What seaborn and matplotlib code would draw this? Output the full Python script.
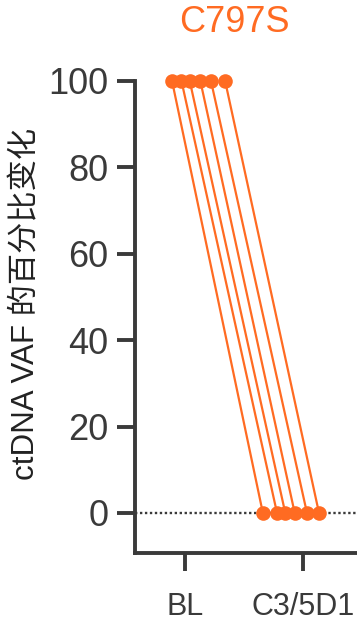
import matplotlib
matplotlib.use("Agg")
import matplotlib.pyplot as plt
import seaborn as sns
import pandas as pd
import numpy as np

# Values
timepoints = ["BL", "C3/5D1"]
subjects = ["P1", "P2", "P3", "P4", "P5", "P6"]
vaf_bl = [100, 100, 100, 100, 100, 100]
vaf_c3 = [0, 0, 0, 0, 0, 0]
title = "C797S"
ylabel = "ctDNA VAF 的百分比变化"
yticks = [0, 20, 40, 60, 80, 100]

# horizontal spread of the points around each timepoint
offset_bl = [-0.11, -0.03, 0.04, 0.13, 0.22, 0.34]
offset_c3 = [-0.34, -0.22, -0.15, -0.07, 0.034, 0.136]

orange = "#FF6B22"
ink = "#3a3a3a"

rows = []
for i, s in enumerate(subjects):
    rows.append({"subject": s, "time": timepoints[0], "x": 0 + offset_bl[i], "vaf": vaf_bl[i]})
    rows.append({"subject": s, "time": timepoints[1], "x": 1 + offset_c3[i], "vaf": vaf_c3[i]})
df = pd.DataFrame(rows)

sns.set_theme(style="ticks")
plt.rcParams["font.family"] = ["Liberation Sans", "Noto Sans CJK SC", "DejaVu Sans"]

fig = plt.figure(figsize=(3.57, 6.27), dpi=100)
ax = fig.add_axes([135 / 357, 74 / 627, 1 - 135 / 357, (553 - 81) / 627])

# dotted reference line at zero
ax.axhline(0, ls=(0, (1, 1.1)), color=ink, lw=1.7, zorder=1)

sns.lineplot(data=df, x="x", y="vaf", units="subject", estimator=None,
             color=orange, lw=1.6, marker="o", markersize=10.5,
             markeredgecolor=orange, markeredgewidth=0, ax=ax, zorder=3,
             legend=False)
for ln in ax.lines:
    ln.set_clip_on(False)

ax.set_xlim(-0.424, 1.458)
ax.set_ylim(-9.26, 100)
ax.set_xticks([0, 1])
ax.set_xticklabels(timepoints)
ax.set_yticks(yticks)
ax.set_xlabel("")
ax.set_ylabel(ylabel, fontsize=22.5, color="#222222")
ax.yaxis.set_label_coords(-0.42, 0.527)

for side in ["top", "right"]:
    ax.spines[side].set_visible(False)
for side in ["left", "bottom"]:
    ax.spines[side].set_linewidth(2.8)
    ax.spines[side].set_color(ink)

ax.tick_params(axis="y", length=13, width=2.8, color=ink, labelsize=26,
               labelcolor=ink, pad=6)
ax.tick_params(axis="x", length=13, width=2.8, color=ink, labelsize=22,
               labelcolor=ink, pad=15)

fig.text(234 / 357, 1 - 22 / 627, title, ha="center", va="center",
         fontsize=26, color=orange)

fig.savefig("out.png", dpi=100)
